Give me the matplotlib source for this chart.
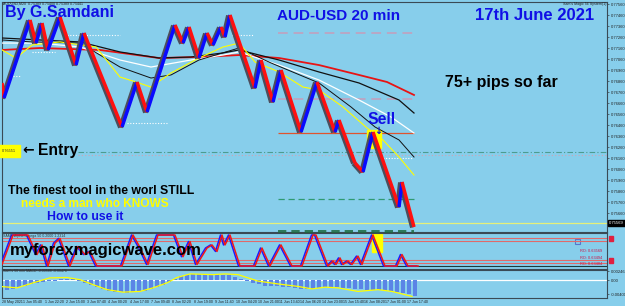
import matplotlib
matplotlib.use("Agg")
import matplotlib.pyplot as plt
import matplotlib.transforms as mtransforms
from matplotlib.patches import Rectangle

W, H = 625, 306
BG = "#87ceeb"

# --- price swings (renko zigzag pivots) ---
swing_x = [2, 4, 30, 36, 42, 48, 60, 76, 84, 122, 137, 147, 175, 183, 189, 199, 207, 213,
           221, 225, 230, 255, 261, 273, 281, 301, 317, 335, 339, 355, 363, 373, 399, 402, 414]
swing_px = [0.76842, 0.76705, 0.77415, 0.77205, 0.77387, 0.77142, 0.77442, 0.77005, 0.77296,
            0.76442, 0.76851, 0.76578, 0.77369, 0.77205, 0.77351, 0.77069, 0.77296, 0.77187,
            0.77351, 0.77260, 0.77460, 0.76796, 0.77051, 0.76669, 0.76960, 0.76396, 0.76851,
            0.76396, 0.76505, 0.76115, 0.76033, 0.76396, 0.75714, 0.75942, 0.75533]

# --- moving averages ---
ma_red_x = [2, 40, 100, 159, 199, 239, 279, 319, 359, 387, 414]
ma_red = [0.77142, 0.77160, 0.77142, 0.77069, 0.77078, 0.77096, 0.77069, 0.77005, 0.76915, 0.76851, 0.76733]
ma_blk1_x = [2, 40, 80, 120, 159, 191, 223, 239, 279, 319, 359, 399, 414]
ma_blk1 = [0.77251, 0.77233, 0.77215, 0.77124, 0.77069, 0.77078, 0.77115, 0.77142, 0.77051,
           0.76942, 0.76842, 0.76687, 0.76569]
ma_wht_x = [2, 40, 80, 120, 151, 191, 223, 239, 279, 319, 359, 391, 414]
ma_wht = [0.77205, 0.77205, 0.77169, 0.77051, 0.76987, 0.77051, 0.77096, 0.77124, 0.77005,
          0.76869, 0.76687, 0.76533, 0.76387]
ma_blk2_x = [2, 32, 80, 120, 151, 171, 199, 239, 271, 319, 351, 375, 399, 414]
ma_blk2 = [0.77233, 0.77215, 0.77205, 0.76987, 0.76887, 0.76915, 0.77051, 0.77160, 0.77024,
           0.76842, 0.76624, 0.76442, 0.76324, 0.76169]
ma_yel_x = [2, 16, 32, 60, 96, 120, 136, 151, 171, 199, 223, 239, 255, 279, 303, 319, 343,
            367, 383, 399, 414]
ma_yel = [0.77142, 0.77069, 0.77187, 0.77215, 0.77169, 0.76896, 0.76851, 0.76805, 0.76933,
          0.77069, 0.77169, 0.77205, 0.77033, 0.76942, 0.76805, 0.76778, 0.76624, 0.76433,
          0.76324, 0.76169, 0.76005]

# --- levels ---
level_gray = [0.77296, 0.76696]
level_sell = 0.76387
level_target = 0.75787
level_entry = 0.76214
level_entry2 = 0.76187
level_bid = 0.75569
level_low = 0.75496
dotted_levels = [(0.77278, 67, 120), (0.77278, 232, 253), (0.77124, 32, 55),
                 (0.76905, 13, 20), (0.76478, 127, 168), (0.76160, 380, 413)]
price_ticks = [0.77560 - 0.0010 * i for i in range(20)]

# --- oscillator ---
osc_x = [2, 13, 28, 37, 42, 48, 55, 60, 70, 78, 85, 90, 97, 122, 133, 140, 148, 158, 175,
         183, 190, 197, 207, 212, 217, 222, 225, 230, 240, 255, 262, 270, 281, 292, 302, 313,
         316, 328, 333, 336, 340, 343, 348, 352, 358, 362, 373, 385, 397, 402, 408, 418]
osc_val = [5, 100, 100, 37, 68, 0, 74, 89, 0, 63, 37, 47, 0, 0, 100, 60, 5, 100, 100,
           30, 79, 5, 58, 68, 47, 100, 68, 100, 0, 0, 58, 0, 68, 0, 0, 100,
           100, 0, 16, 5, 26, 5, 16, 5, 32, 5, 100, 0, 0, 37, 0, 0]
osc_levels = [10, 20, 80, 90]

# --- histogram (MACD) ---
hist_x = list(range(1, 416, 6))
hist_val = [-27, -27, -25, -20, -16, -12, -9, -6, -4, -2, 2, 3, 2, -4, -9, -13, -19, -25,
            -30, -33, -34, -35, -34, -33, -30, -25, -20, -13, -5, 4, 10, 15, 17, 18, 17, 16,
            16, 15, 14, 9, 2, -4, -8, -12, -16, -18, -18, -19, -20, -22, -24, -26, -24, -22,
            -20, -19, -20, -21, -22, -24, -25, -27, -27, -28, -30, -32, -34, -36, -39, -46]
sig_x = [0, 17, 33, 50, 67, 80, 93, 107, 123, 140, 153, 167, 177, 190, 213, 225, 238, 248,
         258, 278, 298, 312, 325, 338, 358, 378, 392, 412]
sig_val = [-18, -22, -8, 6, 7, 1, -13, -27, -34, -32, -22, -8, 7, 17, 15, 17, 15, 6,
           -3, -11, -18, -25, -20, -22, -32, -27, -32, -46]

time_labels = ["28 May 2021", "1 Jun 05:40", "1 Jun 22:20", "2 Jun 15:00", "3 Jun 07:40",
               "4 Jun 00:20", "4 Jun 17:00", "7 Jun 09:40", "8 Jun 02:20", "8 Jun 19:00",
               "9 Jun 11:40", "10 Jun 04:20", "10 Jun 21:00", "11 Jun 13:40", "14 Jun 06:20",
               "14 Jun 23:00", "15 Jun 15:40", "16 Jun 08:20", "17 Jun 01:00", "17 Jun 17:40"]

plt.rcParams['font.family'] = ['Liberation Sans', 'DejaVu Sans']

fig = plt.figure(figsize=(W / 100, H / 100), dpi=100, facecolor=BG)


def box(top, bottom):
    return [2 / W, 1 - bottom / H, 605 / W, (bottom - top) / H]


ax = fig.add_axes(box(2, 232))
ax_osc = fig.add_axes(box(233, 269))
ax_h = fig.add_axes(box(270, 298))
for a in (ax, ax_osc, ax_h):
    a.set_facecolor(BG)
    a.set_xlim(2, 607)
    a.set_xticks([])
    for s in a.spines.values():
        s.set_color("#3a4a55")
        s.set_linewidth(0.8)
    a.yaxis.tick_right()
    a.tick_params(axis='y', length=1.5, width=0.4, pad=1, labelsize=3, colors="#202020")

ax.set_ylim(0.754873, 0.775782)
ax.set_yticks(price_ticks)
ax.set_yticklabels(["%.5f" % p for p in price_ticks])

# levels
ax.hlines(level_gray, 278, 414, colors="#b9a7c4", lw=1.4, linestyles=(0, (5, 3)))
ax.hlines(level_sell, 278, 414, colors="#e0542e", lw=0.9)
ax.hlines(level_target, 278, 414, colors="#2f9a72", lw=0.9, linestyles=(0, (5, 3)))
ax.hlines(level_low, 278, 414, colors="#1d6b3f", lw=1.2, linestyles=(0, (5, 3)))
ax.hlines(level_entry, 78, 607, colors="#4c9c90", lw=0.8, linestyles=(0, (5, 2, 1, 2)))
ax.hlines(level_entry2, 78, 607, colors="#cfa4b4", lw=0.8, linestyles=(0, (1, 2)))
ax.axhline(level_bid, color="#e6f07a", lw=0.9)
for p, x0, x1 in dotted_levels:
    ax.hlines(p, x0, x1, colors="white", lw=0.8, linestyles=(0, (1, 1.5)))

# sell highlight
ax.add_patch(Rectangle((367, 0.76251), 14, 0.00164, color="#ffff00", zorder=2))

# moving averages
ax.plot(ma_red_x, ma_red, color="#e81414", lw=1.3, zorder=3)
ax.plot(ma_blk1_x, ma_blk1, color="#111111", lw=0.9, zorder=3)
ax.plot(ma_wht_x, ma_wht, color="white", lw=0.9, zorder=3)
ax.plot(ma_blk2_x, ma_blk2, color="#111111", lw=0.7, zorder=3)
ax.plot(ma_yel_x, ma_yel, color="#ffff00", lw=0.8, zorder=3)

# renko swings
shadow = mtransforms.offset_copy(ax.transData, fig=fig, x=-1.6, y=-0.5, units='dots')
for i in range(len(swing_x) - 1):
    xs = swing_x[i:i + 2]
    ys = swing_px[i:i + 2]
    c = "#0a0aff" if ys[1] > ys[0] else "#ff1010"
    ax.plot(xs, ys, color="#4d4d5c", lw=3.4, transform=shadow, zorder=4,
            solid_capstyle='butt')
    ax.plot(xs, ys, color=c, lw=2.5, zorder=5, solid_capstyle='butt')

# current price box
ax.text(1.003, level_bid, "0.75569", transform=ax.get_yaxis_transform(), fontsize=3,
        color="white", va='center', ha='left',
        bbox=dict(boxstyle='square,pad=0.25', fc="black", ec="black"), clip_on=False)

# oscillator panel
ax_osc.set_ylim(-9.7, 106.5)
ax_osc.set_yticks([])
for lv in osc_levels:
    ax_osc.axhline(lv, color="#e06a6a", lw=0.8)
ax_osc.axhline(0, color="#1e3a3a", lw=0.8)
ax_osc.add_patch(Rectangle((372, 45), 10, 57, color="#ffff00", zorder=2))
lead = mtransforms.offset_copy(ax_osc.transData, fig=fig, x=-1.5, y=0, units='dots')
ax_osc.plot(osc_x, osc_val, color="#1a1aff", lw=1.1, transform=lead, zorder=3)
ax_osc.plot(osc_x, osc_val, color="#f01818", lw=1.1, zorder=4)
ax_osc.hlines(106, 278, 414, colors="#1d6b3f", lw=1.2, linestyles=(0, (5, 3)), clip_on=False)
ax_osc.text(3, 95, "SAM's Alpha Omega 50 0.2000 1.2314", fontsize=2.6, color="#303030")
for yy, lab in zip([48, 26, 5], ["RO: 0.63569", "RO: 0.63494", "RO: 0.63484"]):
    ax_osc.text(580, yy, lab, fontsize=2.8, color="#d01040", ha='left', va='center')
ax_osc.add_patch(Rectangle((575, 72), 5, 14, fill=False, ec="#5577cc", lw=0.8))
ax_osc.text(1.005, 85, "  ", transform=ax_osc.get_yaxis_transform(), fontsize=3,
            bbox=dict(boxstyle='square,pad=0.2', fc="#e02040", ec="#e02040"), clip_on=False)
ax_osc.text(1.005, 15, "  ", transform=ax_osc.get_yaxis_transform(), fontsize=3,
            bbox=dict(boxstyle='square,pad=0.2', fc="#e02040", ec="#e02040"), clip_on=False)

# histogram panel
ax_h.set_ylim(-50.4, 28)
ax_h.set_yticks([24.6, 0, -40])
ax_h.set_yticklabels(["0.00246", "0.00", "-0.00400"])
ax_h.axhline(0, color="white", lw=0.9)
ax_h.bar(hist_x, hist_val, width=3.2, color="#5b84e6", edgecolor="none", zorder=2)
ax_h.plot(sig_x, sig_val, color="#ffff00", lw=0.9, zorder=3)
ax_h.text(3, 21, "Sam's 50 min MACD -0.00588 -0.00476", fontsize=2.6, color="#303030")

# time axis labels
for i, lab in enumerate(time_labels):
    fig.text((2 + 21.3 * i) / W, 1 - 302 / H, lab, fontsize=2.6, color="#202020",
             ha='left', va='center')

# header bits
fig.text(3 / W, 1 - 4 / H, "AUDUSD,M20  0.75389 0.75400 0.75389 0.75441", fontsize=2.6,
         color="#202020", va='center')
fig.text(606 / W, 1 - 4 / H, "Sam's Magic 56 System(1)", fontsize=2.6, color="#202020",
         va='center', ha='right')


def label(x, y, s, size, color, **kw):
    fig.text(x / W, 1 - y / H, s, fontsize=size, color=color, fontweight='bold',
             va='center', **kw)


label(5, 13, "By G.Samdani", 11.5, "#1010e6")
label(277, 16, "AUD-USD 20 min", 11, "#1010e6")
label(475, 16, "17th June 2021", 12, "#1010e6")
label(445, 83, "75+ pips so far", 11.5, "black")
label(367, 120, "Sell", 11.3, "#1010e6")
label(374, 131, "\u2193", 7, "#1010e6", family='DejaVu Sans')
label(38, 151, "Entry", 11.3, "black")
label(22, 150, "\u2190", 10, "black", family='DejaVu Sans')
fig.text(2 / W, 1 - 151 / H, "0.76551", fontsize=2.8, color="#303030", va='center',
         bbox=dict(boxstyle='square,pad=1.1', fc="#ffff00", ec="#ffff00"))
label(8, 191, "The finest tool in the worl STILL", 8.8, "black")
label(21, 204, "needs a man who KNOWS", 8.6, "#ffff00")
label(47, 217, "How to use it", 8.8, "#1010e6")
label(10, 251, "myforexmagicwave.com", 12, "black")

fig.savefig("out.png", dpi=100, facecolor=BG)
